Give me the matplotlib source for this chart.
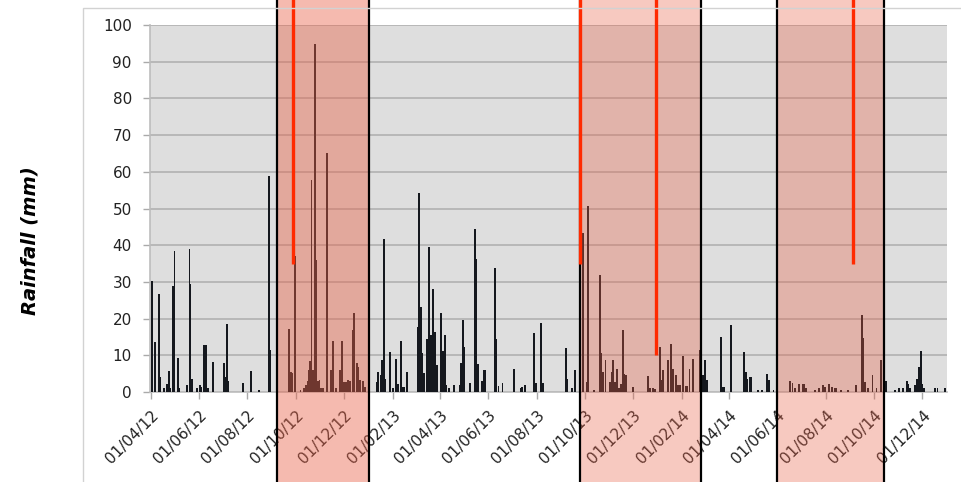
import pandas as pd
import matplotlib
matplotlib.use("Agg")
import matplotlib.pyplot as plt
import matplotlib.dates as mdates
from matplotlib.patches import Rectangle

# daily rainfall (mm)
rain_dates = [
    "2012-04-03", "2012-04-06", "2012-04-11", "2012-04-13", "2012-04-18", "2012-04-22",
    "2012-04-24", "2012-04-26", "2012-04-29", "2012-05-01", "2012-05-05", "2012-05-07",
    "2012-05-17", "2012-05-20", "2012-05-21", "2012-05-23", "2012-05-29", "2012-06-02",
    "2012-06-04", "2012-06-07", "2012-06-09", "2012-06-10", "2012-06-12", "2012-06-19",
    "2012-07-02", "2012-07-04", "2012-07-06", "2012-07-08", "2012-07-27", "2012-08-06",
    "2012-08-16", "2012-08-28", "2012-08-30", "2012-09-23", "2012-09-25", "2012-09-27",
    "2012-09-30", "2012-10-07", "2012-10-12", "2012-10-14", "2012-10-16", "2012-10-18",
    "2012-10-19", "2012-10-21", "2012-10-23", "2012-10-25", "2012-10-27", "2012-10-29",
    "2012-10-31", "2012-11-02", "2012-11-04", "2012-11-10", "2012-11-15", "2012-11-17",
    "2012-11-21", "2012-11-26", "2012-11-29", "2012-12-01", "2012-12-04", "2012-12-06",
    "2012-12-08", "2012-12-12", "2012-12-14", "2012-12-17", "2012-12-19", "2012-12-21",
    "2012-12-25", "2012-12-27",
    "2013-01-11", "2013-01-13", "2013-01-16", "2013-01-18", "2013-01-20", "2013-01-22",
    "2013-01-28", "2013-02-01", "2013-02-05", "2013-02-07", "2013-02-11", "2013-02-13",
    "2013-02-15", "2013-02-19", "2013-03-04", "2013-03-06", "2013-03-08", "2013-03-10",
    "2013-03-12", "2013-03-16", "2013-03-18", "2013-03-20", "2013-03-21", "2013-03-23",
    "2013-03-25", "2013-03-26", "2013-03-28", "2013-04-02", "2013-04-05", "2013-04-07",
    "2013-04-09", "2013-04-12", "2013-04-19", "2013-04-26", "2013-04-28", "2013-04-30",
    "2013-05-02", "2013-05-09", "2013-05-15", "2013-05-17", "2013-05-19", "2013-05-24",
    "2013-05-26", "2013-05-28", "2013-06-09", "2013-06-11", "2013-06-14", "2013-06-19",
    "2013-07-03", "2013-07-12", "2013-07-14", "2013-07-17", "2013-07-29", "2013-07-31",
    "2013-08-07", "2013-08-09", "2013-09-07", "2013-09-08", "2013-09-15", "2013-09-18",
    "2013-09-29", "2013-10-03", "2013-10-05", "2013-10-12", "2013-10-20", "2013-10-22",
    "2013-10-24", "2013-10-27", "2013-11-02", "2013-11-04", "2013-11-06", "2013-11-08",
    "2013-11-11", "2013-11-13", "2013-11-16", "2013-11-18", "2013-11-20", "2013-11-22",
    "2013-12-01", "2013-12-20", "2013-12-22", "2013-12-26", "2013-12-28",
    "2014-01-04", "2014-01-06", "2014-01-08", "2014-01-14", "2014-01-18", "2014-01-20",
    "2014-01-24", "2014-01-26", "2014-01-29", "2014-02-02", "2014-02-05", "2014-02-07",
    "2014-02-10", "2014-02-14", "2014-02-23", "2014-02-25", "2014-02-27", "2014-03-02",
    "2014-03-04", "2014-03-22", "2014-03-24", "2014-03-26", "2014-04-03", "2014-04-20",
    "2014-04-22", "2014-04-24", "2014-04-27", "2014-04-29", "2014-05-07", "2014-05-12",
    "2014-05-19", "2014-05-21", "2014-05-27", "2014-06-17", "2014-06-20", "2014-06-23",
    "2014-06-28", "2014-07-03", "2014-07-05", "2014-07-07", "2014-07-18", "2014-07-24",
    "2014-07-28", "2014-07-31", "2014-08-05", "2014-08-09", "2014-08-12", "2014-08-14",
    "2014-08-20", "2014-08-29", "2014-09-08", "2014-09-16", "2014-09-17", "2014-09-19",
    "2014-09-23", "2014-09-29", "2014-10-04", "2014-10-10", "2014-10-14", "2014-10-16",
    "2014-10-27", "2014-11-02", "2014-11-07", "2014-11-11", "2014-11-13", "2014-11-15",
    "2014-11-22", "2014-11-24", "2014-11-27", "2014-11-29", "2014-12-01", "2014-12-03",
    "2014-12-17", "2014-12-20", "2014-12-29",
]
rain_mm = [
    30.2, 13.5, 26.8, 4.0, 1.0, 2.3,
    5.7, 1.0, 29.0, 38.4, 9.4, 1.0,
    1.8, 39.0, 29.3, 3.6, 1.2, 1.8,
    1.5, 12.7, 6.8, 12.7, 1.0, 8.2,
    7.9, 4.0, 18.6, 3.0, 2.5, 5.7,
    0.5, 58.8, 11.4, 17.3, 5.5, 5.3,
    37.0, 0.5, 1.0, 2.0, 3.0, 6.0,
    8.4, 57.7, 6.0, 94.7, 36.0, 3.0,
    3.2, 1.0, 1.0, 65.2, 6.0, 13.8,
    1.0, 6.0, 13.8, 2.7, 2.7, 3.2,
    3.0, 16.8, 21.6, 8.0, 6.8, 3.2,
    3.0, 1.4,
    2.7, 5.5, 4.5, 8.6, 41.8, 3.6,
    11.0, 1.0, 9.0, 2.3, 13.8, 1.4,
    1.4, 5.5, 17.7, 54.3, 23.2, 10.6,
    5.3, 14.5, 39.4, 8.6, 15.5, 28.0,
    13.6, 16.4, 7.3, 21.5, 11.2, 15.5,
    1.8, 1.0, 1.8, 1.8, 8.0, 19.5,
    12.3, 2.5, 44.5, 36.2, 7.7, 3.0,
    6.1, 6.0, 33.8, 14.5, 1.6, 2.5,
    6.4, 1.1, 1.5, 2.0, 16.0, 2.5,
    18.8, 2.5, 12.0, 3.6, 1.2, 5.9,
    43.2, 2.7, 50.7, 0.5, 31.8, 10.6,
    5.5, 8.6, 2.7, 5.5, 8.6, 2.7,
    6.2, 1.1, 2.3, 17.0, 5.0, 4.5,
    1.4, 4.3, 1.1, 1.1, 0.7,
    12.3, 3.2, 6.0, 8.6, 13.0, 6.4,
    4.7, 1.8, 1.8, 9.8, 1.6, 1.6,
    6.2, 9.0, 11.4, 15.7, 4.5, 8.6,
    3.2, 15.0, 1.4, 1.4, 18.2, 11.0,
    5.5, 3.6, 4.1, 4.1, 0.5, 0.5,
    5.0, 3.2, 0.5, 2.9, 2.5, 1.2,
    2.3, 2.3, 2.3, 1.0, 0.6, 1.0,
    1.8, 1.5, 2.3, 1.4, 1.0, 1.0,
    0.5, 0.5, 1.8, 20.9, 14.7, 2.7,
    1.1, 4.5, 1.1, 8.6, 3.2, 3.0,
    0.5, 1.1, 1.0, 2.9, 2.3, 1.0,
    1.8, 3.6, 6.8, 11.1, 2.3, 1.0,
    1.1, 1.0, 1.1,
]

# shaded periods and red markers
period_start = ["2012-09-08", "2013-09-25", "2014-05-31"]
period_end = ["2013-01-01", "2014-02-24", "2014-10-14"]
period_alpha = [0.43, 0.34, 0.34]
marker_dates = ["2012-09-27", "2013-09-25", "2013-12-30", "2014-09-04"]
marker_low = [35, 35, 10, 35]

dates = pd.to_datetime(rain_dates)

fig = plt.figure(figsize=(9.61, 4.82), dpi=100)
ax = fig.add_axes([0.156, 0.1867, 0.8294, 0.7614])
ax.set_facecolor("#dedede")

# chart frame
fig.patches.append(Rectangle((0.0864, -0.1), 1.0, 1.0834, transform=fig.transFigure,
                             fill=False, edgecolor="#d2d2d2", linewidth=1.0))

ax.bar(dates, rain_mm, width=2.4, color="#15181e", linewidth=0, zorder=3)

ax.set_ylim(0, 100)
ax.set_yticks(range(0, 101, 10))
ax.set_xlim(pd.Timestamp("2012-03-31"), pd.Timestamp("2015-01-01"))
ax.xaxis.set_major_locator(mdates.MonthLocator(bymonth=[2, 4, 6, 8, 10, 12]))
ax.xaxis.set_major_formatter(mdates.DateFormatter("%d/%m/%y"))

ax.grid(axis="y", color="#b4b4b4", linewidth=1.3, zorder=1)
ax.set_axisbelow(True)
for s in ["top", "right"]:
    ax.spines[s].set_visible(False)
for s in ["left", "bottom"]:
    ax.spines[s].set_color("#bdbdbd")
    ax.spines[s].set_linewidth(1.2)
ax.tick_params(axis="both", colors="#aaaaaa", length=5, width=1)
ax.tick_params(axis="y", labelsize=11, labelcolor="#222222", pad=8)
ax.tick_params(axis="x", labelsize=11, labelcolor="#222222", pad=6)
for lbl in ax.get_xticklabels():
    lbl.set_rotation(45)
    lbl.set_ha("right")
    lbl.set_rotation_mode("anchor")

for s, e, a in zip(period_start, period_end, period_alpha):
    ax.axvspan(pd.Timestamp(s), pd.Timestamp(e), ymin=-0.3, ymax=1.15, clip_on=False,
               facecolor=(0.91, 0.38, 0.28, a), edgecolor="black", linewidth=1.6, zorder=5)

for d, low in zip(marker_dates, marker_low):
    ax.vlines(pd.Timestamp(d), low, 115, color="#ff2a00", linewidth=2.4,
              clip_on=False, zorder=6)

fig.text(0.031, 0.5, "Rainfall (mm)", rotation=90, ha="center", va="center",
         fontsize=14, fontweight="bold", fontstyle="italic", color="black")

fig.savefig("out.png", dpi=100)
